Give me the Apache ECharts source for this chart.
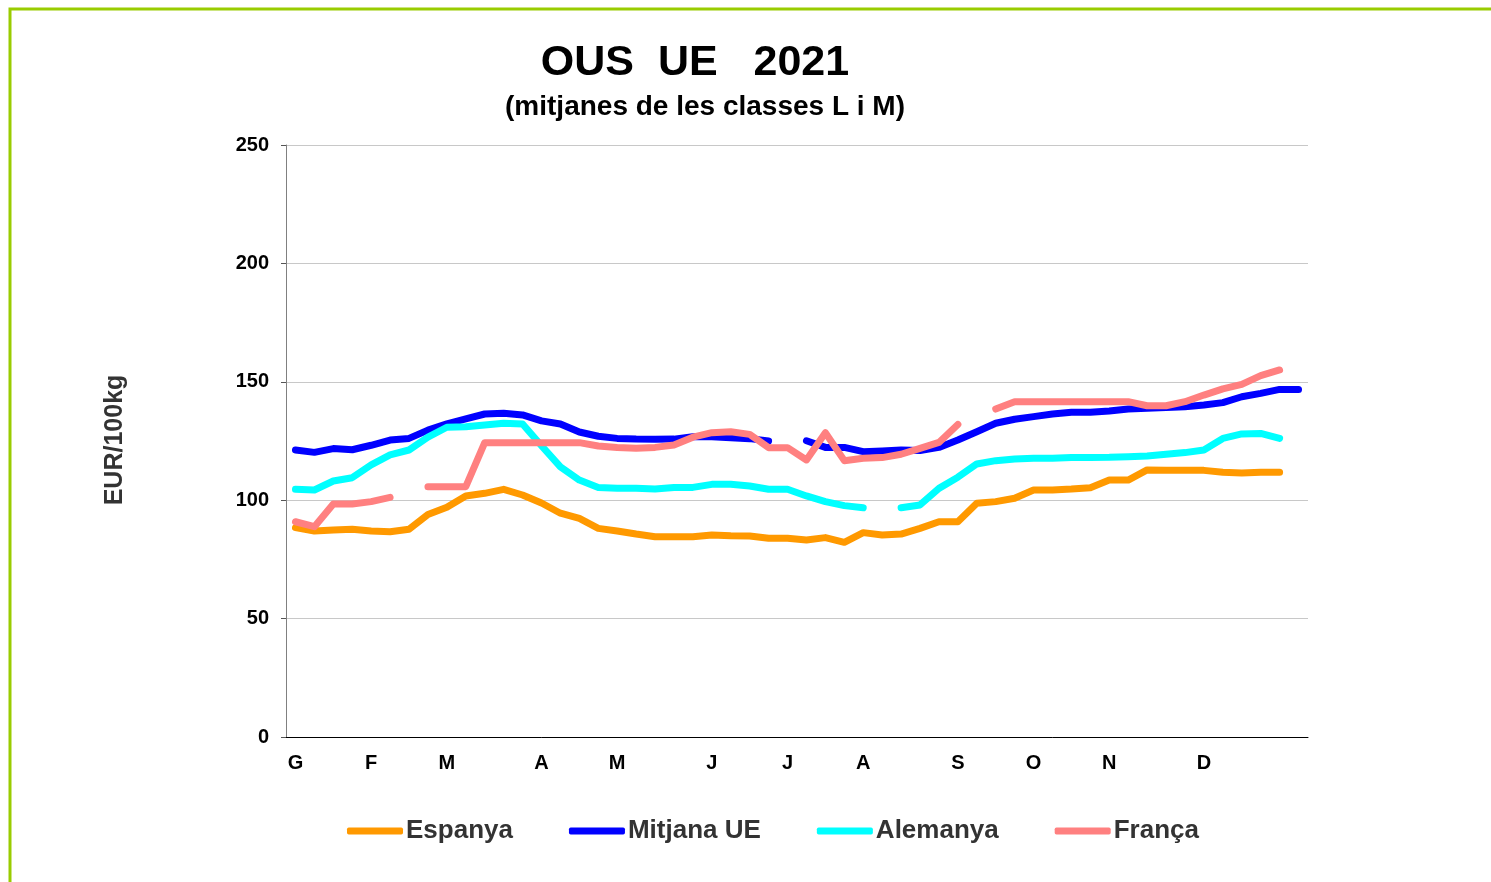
<!DOCTYPE html>
<html>
<head>
<meta charset="utf-8">
<script src="https://cdn.jsdelivr.net/npm/echarts@6/dist/echarts.min.js"></script>
<style>
  html, body { margin: 0; padding: 0; background: #fff; }
  #container { width: 1491px; height: 882px; }
</style>
</head>
<body>
<div id="container"></div>
<script>
// setmanes 1-54, etiqueta del mes a la primera setmana
const setmanes = ['G','','','','F','','','','M','','','','','A','','','','M','','','','','J','','','','J','','','','A','','','','','S','','','','O','','','','N','','','','','D','','','','',''];

const espanya = [88.4, 87.0, 87.4, 87.7, 87.0, 86.7, 87.7, 94.0, 97.0, 101.8,
	102.9, 104.6, 102.2, 98.8, 94.5, 92.3, 88.1, 87.0, 85.7, 84.6,
	84.6, 84.6, 85.3, 85.0, 84.9, 83.9, 83.9, 83.2, 84.2, 82.2,
	86.3, 85.3, 85.7, 88.1, 90.9, 90.9, 98.7, 99.4, 100.8, 104.3,
	104.3, 104.7, 105.3, 108.5, 108.5, 112.8, 112.7, 112.7, 112.6, 111.8,
	111.5, 111.8, 111.8, null];

const mitjanaUE = [121.2, 120.2, 121.8, 121.3, 123.2, 125.4, 126.1, 129.6, 132.2, 134.3,
	136.4, 136.7, 136.0, 133.5, 132.2, 128.8, 127.0, 126.1, 125.8, 125.7,
	125.8, 126.8, 126.8, 126.4, 126.0, 125.0, null, 125.1, 122.3, 122.3,
	120.5, 120.8, 121.2, 121.0, 122.3, 125.4, 128.9, 132.5, 134.2, 135.3,
	136.4, 137.1, 137.1, 137.7, 138.5, 138.8, 139.1, 139.5, 140.2, 141.2,
	143.7, 145.1, 146.8, 146.8];

const alemanya = [104.6, 104.3, 108.1, 109.5, 114.9, 119.1, 121.2, 126.6, 130.8, 131.0,
	131.8, 132.5, 132.2, 123.0, 114.1, 108.5, 105.4, 105.0, 105.0, 104.7,
	105.4, 105.4, 106.7, 106.7, 106.0, 104.6, 104.6, 101.8, 99.4, 97.7,
	96.8, null, 96.8, 98.0, 105.0, 109.7, 115.3, 116.7, 117.4, 117.7,
	117.7, 118.0, 118.0, 118.1, 118.4, 118.7, 119.4, 120.1, 121.2, 126.1,
	128.0, 128.2, 126.1, null];

const franca = [90.9, 88.8, 98.4, 98.4, 99.4, 101.2, null, 105.7, 105.7, 105.7,
	124.3, 124.3, 124.3, 124.3, 124.3, 124.3, 122.9, 122.3, 121.9, 122.3,
	123.3, 126.6, 128.5, 128.9, 127.8, 122.2, 122.2, 117.0, 128.5, 116.7,
	117.7, 118.0, 119.4, 121.9, 124.4, 132.0, null, 138.5, 141.6, 141.6,
	141.6, 141.6, 141.6, 141.6, 141.6, 139.9, 139.9, 141.6, 144.4, 147.0,
	148.9, 152.6, 155.0, null];

const chart = echarts.init(document.getElementById('container'));

function linia(nom, dades, color) {
	return {
		name: nom,
		type: 'line',
		data: dades,
		symbol: 'none',
		connectNulls: false,
		lineStyle: { width: 7, color: color, cap: 'round', join: 'round' },
		itemStyle: { color: color },
		emphasis: { disabled: true }
	};
}

const opt = {
	animation: false,
	textStyle: { fontFamily: 'Liberation Sans, Arial, sans-serif' },
	title: [{
		text: 'OUS  UE   2021',
		left: 690, top: 37, textAlign: 'center',
		textStyle: { fontSize: 43, fontWeight: 'bold', color: '#000' }
	}, {
		text: '(mitjanes de les classes L i M)',
		left: 700, top: 88, textAlign: 'center',
		textStyle: { fontSize: 28, fontWeight: 'bold', color: '#000' }
	}],
	graphic: [{
		type: 'rect',
		shape: { x: 10, y: 9, width: 1500, height: 900 },
		style: { fill: 'none', stroke: '#99cc00', lineWidth: 3 },
		silent: true
	}, {
		type: 'text',
		x: 115, y: 440,
		rotation: Math.PI / 2,
		style: {
			text: 'EUR/100kg',
			font: 'bold 25px "Liberation Sans", Arial, sans-serif',
			fill: '#333',
			align: 'center',
			verticalAlign: 'middle'
		}
	}],
	legend: {
		left: 347, top: 818,
		padding: 0,
		icon: 'roundRect',
		itemWidth: 56, itemHeight: 7,
		itemGap: 56,
		textStyle: { fontSize: 26, fontWeight: 'bold', color: '#333', padding: [0, 0, 0, -2] },
		data: ['Espanya', 'Mitjana UE', 'Alemanya', 'França']
	},
	grid: { left: 286, right: 183, top: 145, bottom: 145 },
	xAxis: {
		type: 'category',
		data: setmanes,
		boundaryGap: true,
		axisLine: { lineStyle: { color: '#000', width: 1 } },
		axisTick: { interval: 0, length: 5, lineStyle: { color: '#555' } },
		axisLabel: { interval: 0, margin: 16, fontSize: 20, fontWeight: 'bold', color: '#000' },
		splitLine: { show: false }
	},
	yAxis: {
		type: 'value',
		min: 0, max: 250, interval: 50,
		axisLine: { show: true, lineStyle: { color: '#808080' } },
		axisTick: { show: true, length: 5, lineStyle: { color: '#555' } },
		axisLabel: { margin: 17, fontSize: 20, fontWeight: 'bold', color: '#000' },
		splitLine: { lineStyle: { color: '#c8c8c8', width: 1 } }
	},
	series: [
		linia('Espanya', espanya, '#ff9900'),
		linia('Mitjana UE', mitjanaUE, '#0000ff'),
		linia('Alemanya', alemanya, '#00ffff'),
		linia('França', franca, '#ff8080')
	]
};

chart.setOption(opt);
</script>
</body>
</html>
